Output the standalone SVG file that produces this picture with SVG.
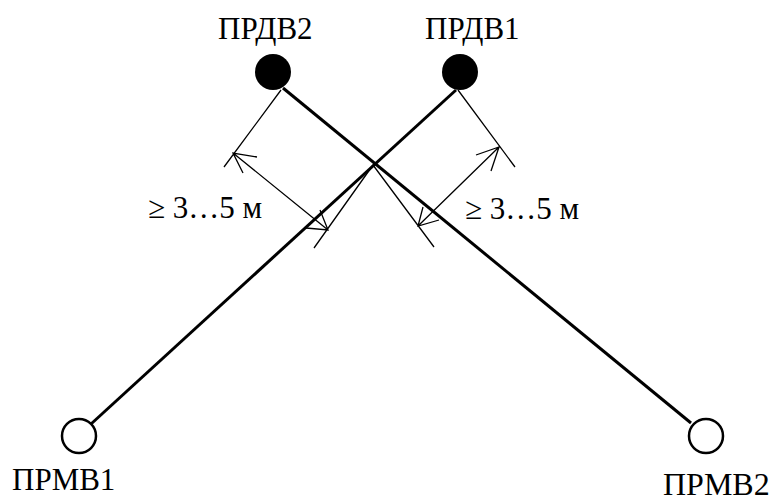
<svg xmlns="http://www.w3.org/2000/svg" width="770" height="496" viewBox="0 0 770 496">
<style>
text{font-family:"Liberation Serif","Times New Roman",serif;font-size:31px;fill:#000}
.thick{fill:none;stroke:#000;stroke-width:3}
.thin{fill:none;stroke:#000;stroke-width:1.3}
.tx{fill:#000;stroke:none}
.rx{fill:#fff;stroke:#000;stroke-width:2.5}
</style>
<rect width="770" height="496" fill="#fff"/>
<g id="connectors">
<path class="thick" d="M283 88L691 423"/>
<path class="thick" d="M456 90L91 424"/>
<path class="thin" d="M281 90L224 167M233 153L328 230M373 165L314 248M257 157L233 153L243 173M306 228L328 230L320 210"/>
<path class="thin" d="M458 90L515 167M499 147L418 226M373 165L434 247M476 155L499 147L491 171M423 207L418 226L439 220"/>
</g>
<g id="prdv2"><circle class="tx" cx="273" cy="72" r="18"/><text x="218" y="39">ПРДВ2</text></g>
<g id="prdv1"><circle class="tx" cx="460" cy="72" r="18"/><text x="425" y="39">ПРДВ1</text></g>
<g id="prmv1"><circle class="rx" cx="79" cy="436" r="17"/><text x="12" y="490">ПРМВ1</text></g>
<g id="prmv2"><circle class="rx" cx="706" cy="436" r="17"/><text x="663" y="495" style="font-size:32px">ПРМВ2</text></g>
<g id="labels"><text x="148" y="218">≥ 3…5 м</text><text x="465" y="219">≥ 3…5 м</text></g>
</svg>
